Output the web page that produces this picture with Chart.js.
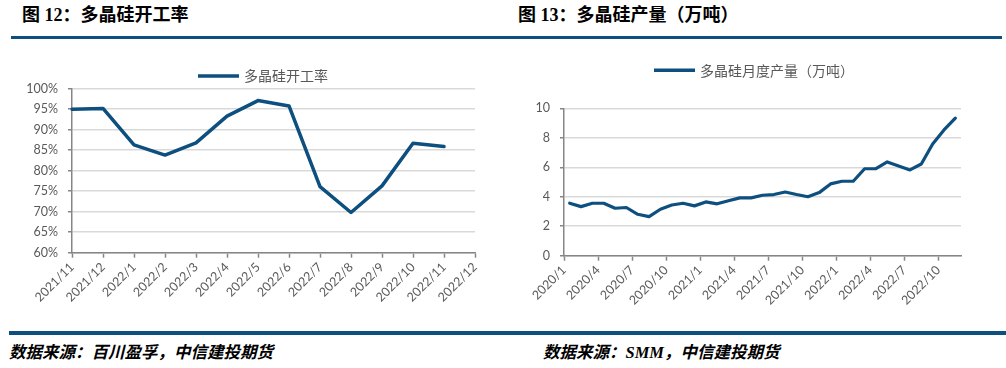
<!DOCTYPE html>
<html>
<head>
<meta charset="utf-8">
<script src="https://cdn.jsdelivr.net/npm/chart.js@4"></script>
<style>
  body { margin: 0; background: #fff; width: 1006px; height: 368px; position: relative; overflow: hidden; }
  .title { position: absolute; top: 3px; font: bold 18px "Liberation Serif", "Noto Sans CJK SC", serif; color: #000; line-height: 24px; white-space: nowrap; }
  .src { position: absolute; top: 342px; font: italic bold 16.5px "Liberation Serif", "Noto Sans CJK SC", serif; color: #000; line-height: 22px; white-space: nowrap; }
  .bar { position: absolute; background: #0d4f7e; }
  .box { position: absolute; top: 40px; height: 270px; }
</style>
</head>
<body>
<div class="title" style="left:22px">图 12：多晶硅开工率</div>
<div class="title" style="left:518px">图 13：多晶硅产量（万吨）</div>
<div class="bar" style="left:11px; top:36px; width:991px; height:3px"></div>
<div class="box" style="left:0; width:500px"><canvas id="chartRate"></canvas></div>
<div class="box" style="left:500px; width:506px"><canvas id="chartOutput"></canvas></div>
<div class="bar" style="left:9px; top:331px; width:997px; height:3.5px"></div>
<div class="src" style="left:9px">数据来源：百川盈孚，中信建投期货</div>
<div class="src" style="left:543px">数据来源：SMM，中信建投期货</div>

<script>
// 图12 多晶硅开工率
const rateLabels = ['2021/11', '2021/12', '2022/1', '2022/2', '2022/3', '2022/4', '2022/5',
    '2022/6', '2022/7', '2022/8', '2022/9', '2022/10', '2022/11', '2022/12'];
const rateValues = [95.0, 95.2, 86.3, 83.8, 86.8, 93.3, 97.1, 95.8, 76.1, 69.8, 76.3, 86.7, 85.9, null];
const rateTicks = { min: 60, max: 100, step: 5 };

// 图13 多晶硅月度产量（万吨）
const outputLabels = [
    '2020/1', '2020/2', '2020/3', '2020/4', '2020/5', '2020/6', '2020/7', '2020/8', '2020/9', '2020/10', '2020/11', '2020/12',
    '2021/1', '2021/2', '2021/3', '2021/4', '2021/5', '2021/6', '2021/7', '2021/8', '2021/9', '2021/10', '2021/11', '2021/12',
    '2022/1', '2022/2', '2022/3', '2022/4', '2022/5', '2022/6', '2022/7', '2022/8', '2022/9', '2022/10', '2022/11'
];
const outputValues = [
    3.56, 3.33, 3.56, 3.56, 3.22, 3.27, 2.81, 2.65, 3.15, 3.44, 3.56, 3.38,
    3.65, 3.52, 3.73, 3.92, 3.92, 4.10, 4.15, 4.32, 4.15, 4.00, 4.28, 4.87,
    5.05, 5.05, 5.90, 5.90, 6.36, 6.09, 5.82, 6.22, 7.58, 8.53, 9.33
];
const outputTicks = { min: 0, max: 10, step: 2 };

const lineColor = '#0d4f7e';
const axisColor = '#868686';
const gridColor = '#d9d9d9';
const textColor = '#595959';
const tickFont = { family: 'Lato, "Open Sans", sans-serif', size: 12.5 };

// 手绘图例：一条线段加文字
const lineLegend = {
    id: 'lineLegend',
    afterDraw(chart, args, opts) {
        const ctx = chart.ctx;
        const ds = chart.data.datasets[0];
        ctx.save();
        ctx.strokeStyle = ds.borderColor;
        ctx.lineWidth = 3.5;
        ctx.beginPath();
        ctx.moveTo(opts.x, opts.y);
        ctx.lineTo(opts.x + 41, opts.y);
        ctx.stroke();
        ctx.fillStyle = textColor;
        ctx.font = '14px "Noto Sans CJK SC", sans-serif';
        ctx.textBaseline = 'middle';
        ctx.fillText(ds.label, opts.x + 46, opts.y);
        ctx.restore();
    }
};

function yAxis(t, width, fmt) {
    return {
        min: t.min,
        max: t.max,
        afterFit: s => { s.width = width; },
        ticks: { stepSize: t.step, color: textColor, font: tickFont, padding: 10, callback: fmt },
        grid: { color: gridColor, lineWidth: 1.5, tickColor: axisColor, tickLength: 4, tickWidth: 1.5 },
        border: { color: axisColor, width: 1.5 }
    };
}

new Chart(document.getElementById('chartRate'), {
    type: 'line',
    data: {
        labels: rateLabels,
        datasets: [{
            label: '多晶硅开工率',
            data: rateValues,
            borderColor: lineColor,
            borderWidth: 3.5,
            pointRadius: 0,
            tension: 0,
            borderCapStyle: 'round',
            borderJoinStyle: 'round'
        }]
    },
    options: {
        responsive: true,
        maintainAspectRatio: false,
        animation: false,
        layout: { padding: { left: 0, top: 48.7, right: 25, bottom: 0 } },
        scales: {
            x: {
                offset: false,
                afterFit: s => { s.height = 57.3; },
                ticks: { autoSkip: false, minRotation: 45, maxRotation: 45, color: textColor, font: tickFont, padding: 2 },
                grid: { drawOnChartArea: false, tickColor: axisColor, tickLength: 5, tickWidth: 1.5 },
                border: { color: axisColor, width: 1.5 }
            },
            y: yAxis(rateTicks, 72, v => v + '%')
        },
        plugins: {
            legend: { display: false },
            tooltip: { enabled: false },
            lineLegend: { x: 198, y: 36 }
        }
    },
    plugins: [lineLegend]
});

new Chart(document.getElementById('chartOutput'), {
    type: 'line',
    data: {
        labels: outputLabels,
        datasets: [{
            label: '多晶硅月度产量（万吨）',
            data: outputValues,
            borderColor: lineColor,
            borderWidth: 3.2,
            pointRadius: 0,
            tension: 0,
            borderCapStyle: 'round',
            borderJoinStyle: 'round'
        }]
    },
    options: {
        responsive: true,
        maintainAspectRatio: false,
        animation: false,
        layout: { padding: { left: 0, top: 68.3, right: 45, bottom: 0 } },
        scales: {
            x: {
                offset: true,
                afterFit: s => { s.height = 54.3; },
                ticks: {
                    autoSkip: false, minRotation: 45, maxRotation: 45, color: textColor, font: tickFont, padding: 2,
                    labelOffset: -5.7,
                    callback: (v, i) => i % 3 === 0 ? outputLabels[i] : ''
                },
                grid: {
                    offset: true,
                    drawOnChartArea: false,
                    tickLength: 5,
                    tickWidth: 1.5,
                    tickColor: c => c.index % 3 === 0 ? axisColor : 'rgba(0,0,0,0)'
                },
                border: { color: axisColor, width: 1.5 }
            },
            y: yAxis(outputTicks, 64)
        },
        plugins: {
            legend: { display: false },
            tooltip: { enabled: false },
            lineLegend: { x: 154, y: 30.3 }
        }
    },
    plugins: [lineLegend]
});
</script>
</body>
</html>
